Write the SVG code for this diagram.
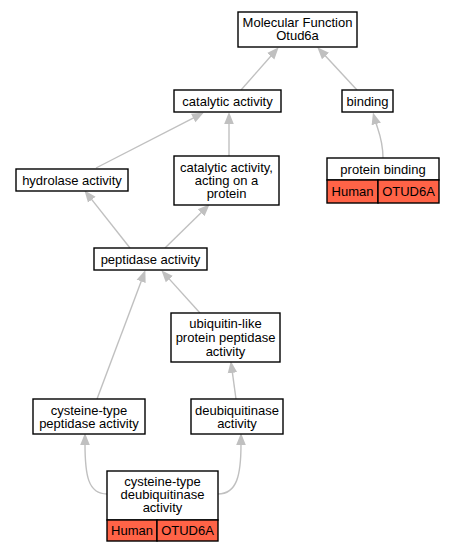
<svg xmlns="http://www.w3.org/2000/svg" width="456" height="552" viewBox="0 0 456 552">
<style>
.n{fill:#fff;stroke:#000;stroke-width:1.4}
.r{fill:#ff6347;stroke:#000;stroke-width:1.4}
text{font-family:"Liberation Sans",Arial,sans-serif;font-size:13px;fill:#000;text-anchor:middle}
.e{fill:none;stroke:#c0c0c0;stroke-width:1.4}
</style>
<defs>
<marker id="a" markerUnits="userSpaceOnUse" markerWidth="14" markerHeight="12" viewBox="0 -6 14 12" refX="1" refY="0" orient="auto">
<path d="M0,-4.8 L12,0 L0,4.8 z" fill="#c0c0c0"/>
</marker>
</defs>
<rect width="456" height="552" fill="#fff"/>
<g id="edges">
<path class="e" marker-end="url(#a)" d="M241,90 L271.4,55.5"/>
<path class="e" marker-end="url(#a)" d="M357,90 L324.8,55.3"/>
<path class="e" marker-end="url(#a)" d="M96,168 L194.1,117.6"/>
<path class="e" marker-end="url(#a)" d="M229,156 L229,123"/>
<path class="e" marker-end="url(#a)" d="M383,158 C383,140 378,130 376,123"/>
<path class="e" marker-end="url(#a)" d="M130,248 L91.2,198.9"/>
<path class="e" marker-end="url(#a)" d="M165,248 L201.8,212"/>
<path class="e" marker-end="url(#a)" d="M200,313 L168.7,278.4"/>
<path class="e" marker-end="url(#a)" d="M97,399 L141.5,280.4"/>
<path class="e" marker-end="url(#a)" d="M236,399 L232.3,371.9"/>
<path class="e" marker-end="url(#a)" d="M107,494 C88,494 85,475 85,444"/>
<path class="e" marker-end="url(#a)" d="M218,494 C237,494 241,475 241,444"/>
</g>
<g id="mf">
<rect class="n" x="238" y="12" width="119" height="35"/>
<text x="297.5" y="26.5">Molecular Function</text>
<text x="297.5" y="39.5">Otud6a</text>
</g>
<g id="catalytic">
<rect class="n" x="174" y="90" width="107" height="22"/>
<text x="227.5" y="105.5">catalytic activity</text>
</g>
<g id="binding">
<rect class="n" x="342" y="90" width="51" height="22"/>
<text x="367.5" y="105.5">binding</text>
</g>
<g id="hydrolase">
<rect class="n" x="16" y="169" width="112" height="22"/>
<text x="72" y="184.5">hydrolase activity</text>
</g>
<g id="catprotein">
<rect class="n" x="174" y="156" width="105" height="49"/>
<text x="226.5" y="171.5">catalytic activity,</text>
<text x="226.5" y="184.5">acting on a</text>
<text x="226.5" y="197.5">protein</text>
</g>
<g id="proteinbinding">
<rect class="n" x="327" y="158" width="112" height="22"/>
<text x="383" y="173.5">protein binding</text>
<rect class="r" x="327" y="180" width="51" height="23"/>
<text x="352.5" y="196">Human</text>
<rect class="r" x="378" y="180" width="61" height="23"/>
<text x="408.5" y="196">OTUD6A</text>
</g>
<g id="peptidase">
<rect class="n" x="94" y="248" width="113" height="22"/>
<text x="150.5" y="263.5">peptidase activity</text>
</g>
<g id="ubiquitin">
<rect class="n" x="171" y="313" width="109" height="49"/>
<text x="225.5" y="328">ubiquitin-like</text>
<text x="225.5" y="342">protein peptidase</text>
<text x="225.5" y="356">activity</text>
</g>
<g id="cyspep">
<rect class="n" x="33" y="399" width="112" height="35"/>
<text x="89" y="414.5">cysteine-type</text>
<text x="89" y="428">peptidase activity</text>
</g>
<g id="deub">
<rect class="n" x="191" y="399" width="92" height="35"/>
<text x="237" y="414.5">deubiquitinase</text>
<text x="237" y="428">activity</text>
</g>
<g id="cysdeub">
<rect class="n" x="107" y="471" width="111" height="49"/>
<text x="162.5" y="485.5">cysteine-type</text>
<text x="162.5" y="498.5">deubiquitinase</text>
<text x="162.5" y="511.5">activity</text>
<rect class="r" x="107" y="520" width="50" height="21"/>
<text x="132" y="535">Human</text>
<rect class="r" x="157" y="520" width="61" height="21"/>
<text x="187.5" y="535">OTUD6A</text>
</g>
</svg>
